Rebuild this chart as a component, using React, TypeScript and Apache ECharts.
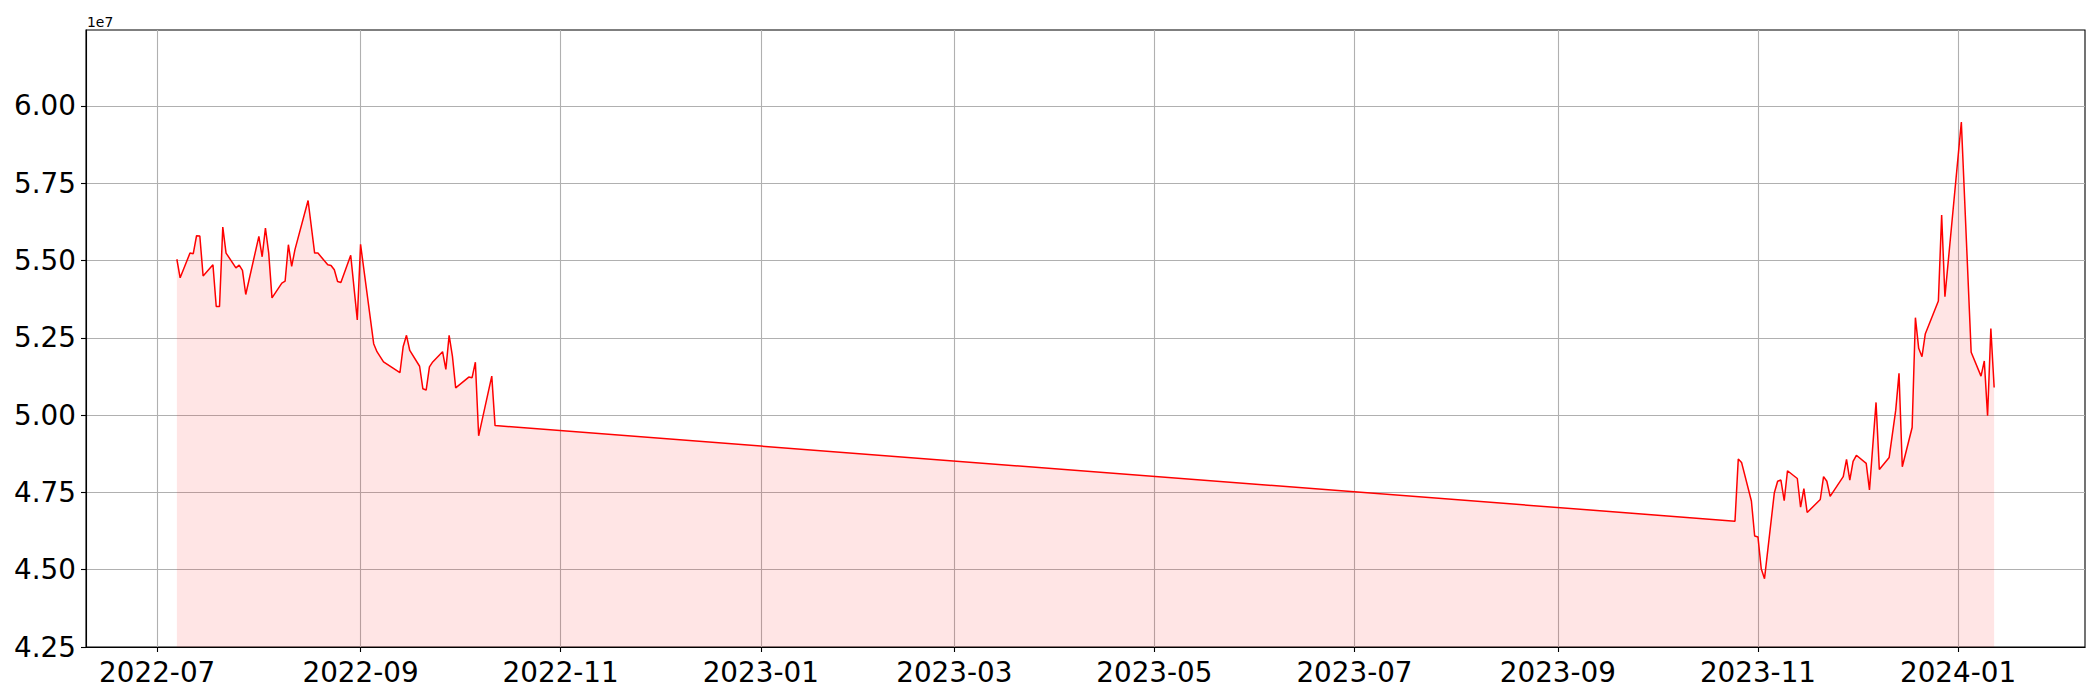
import React, { useEffect, useRef } from "react";
import * as echarts from "echarts";

// Values are in units of 1e7 (matplotlib offset text "1e7")
const dates1 = [
  "2022-07-07", "2022-07-08", "2022-07-11", "2022-07-12", "2022-07-13", "2022-07-14", "2022-07-15",
  "2022-07-18", "2022-07-19", "2022-07-20", "2022-07-21", "2022-07-22", "2022-07-25", "2022-07-26",
  "2022-07-27", "2022-07-28", "2022-08-01", "2022-08-02", "2022-08-03", "2022-08-04", "2022-08-05",
  "2022-08-08", "2022-08-09", "2022-08-10", "2022-08-11", "2022-08-12", "2022-08-16", "2022-08-18",
  "2022-08-19", "2022-08-22", "2022-08-23", "2022-08-24", "2022-08-25", "2022-08-26", "2022-08-29",
  "2022-08-31", "2022-09-01", "2022-09-05", "2022-09-06", "2022-09-08", "2022-09-13", "2022-09-14",
  "2022-09-15", "2022-09-16", "2022-09-19", "2022-09-20", "2022-09-21", "2022-09-22", "2022-09-23",
  "2022-09-26", "2022-09-27", "2022-09-28", "2022-09-29", "2022-09-30", "2022-10-04", "2022-10-05",
  "2022-10-06", "2022-10-07", "2022-10-11", "2022-10-12",
];
const values1 = [
  5.504, 5.444, 5.524, 5.522, 5.580, 5.579, 5.450,
  5.486, 5.351, 5.351, 5.608, 5.524, 5.476, 5.485,
  5.468, 5.390, 5.578, 5.512, 5.605, 5.524, 5.379,
  5.427, 5.433, 5.551, 5.481, 5.535, 5.694, 5.524,
  5.524, 5.486, 5.484, 5.470, 5.432, 5.429, 5.517,
  5.308, 5.552, 5.231, 5.205, 5.172, 5.137, 5.222,
  5.258, 5.209, 5.158, 5.085, 5.081, 5.156, 5.172,
  5.205, 5.148, 5.258, 5.191, 5.088, 5.123, 5.121,
  5.171, 4.933, 5.126, 4.966,
];
const dates2 = [
  "2023-10-25", "2023-10-26", "2023-10-27", "2023-10-30", "2023-10-31", "2023-11-01", "2023-11-02",
  "2023-11-03", "2023-11-06", "2023-11-07", "2023-11-08", "2023-11-09", "2023-11-10", "2023-11-13",
  "2023-11-14", "2023-11-15", "2023-11-16", "2023-11-20", "2023-11-21", "2023-11-22", "2023-11-23",
  "2023-11-27", "2023-11-28", "2023-11-29", "2023-11-30", "2023-12-01", "2023-12-04", "2023-12-05",
  "2023-12-07", "2023-12-08", "2023-12-11", "2023-12-13", "2023-12-14", "2023-12-15", "2023-12-18",
  "2023-12-19", "2023-12-20", "2023-12-21", "2023-12-22", "2023-12-26", "2023-12-27", "2023-12-28",
  "2024-01-02", "2024-01-05", "2024-01-08", "2024-01-09", "2024-01-10", "2024-01-11", "2024-01-12",
];
const values2 = [
  4.657, 4.858, 4.847, 4.722, 4.609, 4.606, 4.503,
  4.471, 4.749, 4.786, 4.790, 4.723, 4.820, 4.795,
  4.702, 4.762, 4.685, 4.727, 4.801, 4.786, 4.737,
  4.801, 4.857, 4.790, 4.850, 4.870, 4.844, 4.758,
  5.041, 4.824, 4.863, 5.016, 5.135, 4.833, 4.960,
  5.315, 5.216, 5.189, 5.262, 5.369, 5.647, 5.383,
  5.948, 5.203, 5.126, 5.175, 4.998, 5.280, 5.089,
];
const xTickLabels = [
  "2022-07", "2022-09", "2022-11", "2023-01", "2023-03",
  "2023-05", "2023-07", "2023-09", "2023-11", "2024-01",
];
const yTickLabels = ["4.25", "4.50", "4.75", "5.00", "5.25", "5.50", "5.75", "6.00"];

const FONT = "DejaVu Sans";

const toTs = (s: string) => {
  const p = s.split("-").map(Number);
  return Date.UTC(p[0], p[1] - 1, p[2] || 1);
};

export default function App() {
  const ref = useRef<HTMLDivElement>(null);
  useEffect(() => {
    if (!ref.current) return;
    const chart = echarts.init(ref.current, null, { renderer: "svg" });
    const data = [
      ...dates1.map((d, i) => [toTs(d), values1[i]]),
      ...dates2.map((d, i) => [toTs(d), values2[i]]),
    ];
    const t0 = data[0][0];
    const t1 = data[data.length - 1][0];
    const span = t1 - t0;
    const xTicks = xTickLabels.map((s) => toTs(s));
    const yTicks = yTickLabels.map(Number);
    const fmtX = (v: number) => {
      const d = new Date(v);
      return `${d.getUTCFullYear()}-${String(d.getUTCMonth() + 1).padStart(2, "0")}`;
    };
    chart.setOption({
      animation: false,
      backgroundColor: "#ffffff",
      grid: {
        left: 86,
        right: 15,
        top: 30,
        bottom: 53,
        show: true,
        borderColor: "#000000",
        borderWidth: 1.1,
        backgroundColor: "transparent",
      },
      graphic: [
        {
          type: "text",
          left: 87,
          top: 15,
          style: { text: "1e7", fontSize: 13.9, fontFamily: FONT, fill: "#000000" },
        },
      ],
      xAxis: {
        type: "value",
        scale: true,
        min: t0 - span * 0.05,
        max: t1 + span * 0.05,
        axisLine: { show: true, lineStyle: { color: "#000000", width: 1.1 } },
        axisTick: {
          show: true,
          length: 5,
          inside: false,
          customValues: xTicks,
          lineStyle: { color: "#000000", width: 1.1 },
        },
        axisLabel: {
          show: true,
          customValues: xTicks,
          formatter: (v: number) => fmtX(v),
          fontSize: 27.8,
          fontFamily: FONT,
          color: "#000000",
          margin: 11,
          hideOverlap: false,
        },
        splitLine: { show: true, lineStyle: { color: "#b0b0b0", width: 1.1 } },
      },
      yAxis: {
        type: "value",
        min: 4.25,
        max: 6.2454,
        interval: 0.25,
        axisLine: { show: true, lineStyle: { color: "#000000", width: 1.1 } },
        axisTick: {
          show: true,
          length: 5,
          inside: false,
          customValues: yTicks,
          lineStyle: { color: "#000000", width: 1.1 },
        },
        axisLabel: {
          show: true,
          customValues: yTicks,
          formatter: (v: number) => v.toFixed(2),
          fontSize: 27.8,
          fontFamily: FONT,
          color: "#000000",
          margin: 10,
        },
        splitLine: { show: true, lineStyle: { color: "#b0b0b0", width: 1.1 } },
      },
      series: [
        {
          type: "line",
          data,
          symbol: "none",
          showSymbol: false,
          lineStyle: { color: "#ff0000", width: 1.5 },
          itemStyle: { color: "#ff0000" },
          areaStyle: { color: "rgba(255,0,0,0.1)", opacity: 1 },
        },
      ],
    });
    return () => chart.dispose();
  }, []);
  return (
    <div
      ref={ref}
      style={{ position: "fixed", left: 0, top: 0, width: 2100, height: 700 }}
    />
  );
}
